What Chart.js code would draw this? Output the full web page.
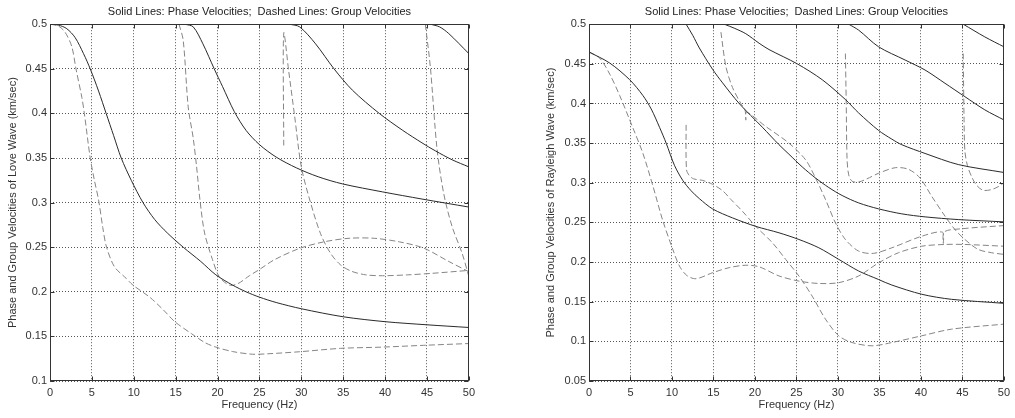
<!DOCTYPE html>
<html>
<head>
<meta charset="utf-8">
<script src="https://cdn.jsdelivr.net/npm/chart.js@4.4.1/dist/chart.umd.min.js"></script>
<style>
  html, body { margin: 0; padding: 0; background: #fff; }
  body { width: 1015px; height: 418px; position: relative; overflow: hidden; }
  .panel { position: absolute; top: 0; width: 480px; height: 418px; }
  #love-wrap { left: 0; }
  #ray-wrap { left: 535px; }
</style>
</head>
<body>
<div class="panel" id="love-wrap"><canvas id="loveChart" width="480" height="418"></canvas></div>
<div class="panel" id="ray-wrap"><canvas id="rayChart" width="480" height="418"></canvas></div>
<script>
// --- ticks ---
const freqTicks = [0, 5, 10, 15, 20, 25, 30, 35, 40, 45, 50];
const loveTicks = [0.1, 0.15, 0.2, 0.25, 0.3, 0.35, 0.4, 0.45, 0.5];
const rayTicks = [0.05, 0.1, 0.15, 0.2, 0.25, 0.3, 0.35, 0.4, 0.45, 0.5];

const chartTitle = 'Solid Lines: Phase Velocities;  Dashed Lines: Group Velocities';

// --- Love wave: [frequency Hz, velocity km/sec] ---
const lovePhase1 = [[0,0.5],[1,0.499],[2,0.495],[3,0.485],[4,0.467],[4.8,0.45],[5.8,0.425],[6.7,0.4],[7.6,0.375],[8.5,0.35],[9.7,0.325],[11.1,0.3],[12.5,0.281],[14,0.266],[15.9,0.25],[18,0.234],[19.8,0.219],[21.8,0.2075],[23.4,0.2],[25,0.194],[27,0.188],[30,0.181],[35,0.172],[40,0.1665],[45,0.163],[50,0.16]];
const lovePhase2 = [[16.1,0.5],[17.1,0.497],[18.25,0.478],[19.6,0.45],[20.6,0.43],[22,0.402],[23.4,0.381],[25,0.365],[27,0.351],[29.4,0.339],[32,0.329],[34.9,0.321],[39.7,0.312],[44.4,0.304],[50,0.295]];
const lovePhase3 = [[28.6,0.5],[29.8,0.497],[31.7,0.478],[33.9,0.45],[36.1,0.426],[39.3,0.4],[42.1,0.381],[44.4,0.367],[46,0.358],[48,0.348],[50,0.34]];
const lovePhase4 = [[45.4,0.5],[46.5,0.497],[47.6,0.4895],[50,0.467]];
const loveGroup1 = [[0,0.5],[1,0.498],[1.8,0.491],[2.6,0.475],[3.1,0.45],[3.8,0.418],[4.1,0.4],[4.8,0.35],[5.3,0.325],[5.8,0.303],[6.3,0.272],[6.75,0.25],[7.7,0.228],[9.1,0.215],[9.9,0.2075],[11.9,0.194],[13.5,0.18],[14.9,0.1665],[16.9,0.153],[18.5,0.143],[19.8,0.138],[21.8,0.133],[24.2,0.13],[26,0.1305],[29.8,0.1328],[34.7,0.1366],[39.7,0.138],[44.6,0.14],[50,0.142]];
const loveGroup2 = [[15.4,0.5],[15.9,0.482],[16.5,0.407],[17.1,0.372],[17.5,0.34],[17.9,0.303],[18.45,0.266],[19.4,0.236],[20.2,0.217],[21.4,0.2075],[22.4,0.209],[23.8,0.218],[25,0.225],[26.8,0.236],[29.8,0.2487],[32.7,0.256],[35.7,0.26],[38.7,0.26],[41.7,0.256],[44.6,0.249],[47.6,0.234],[50,0.2225]];
const loveGroup3 = [[27.9,0.364],[27.9,0.49],[28.5,0.447],[29.2,0.397],[30,0.34],[31.1,0.3],[32.3,0.265],[33.5,0.243],[34.7,0.23],[36,0.223],[37.7,0.219],[39.7,0.218],[42.7,0.219],[45.6,0.2207],[50,0.224]];
const loveGroup4 = [[44.8,0.5],[45.4,0.452],[46.2,0.36],[47,0.31],[48,0.273],[49.2,0.243],[50,0.217]];

// --- Rayleigh wave ---
const rayPhase1 = [[0,0.465],[2.5,0.451],[4.9,0.43],[6.5,0.41],[7.5,0.393],[8.5,0.37],[9.3,0.35],[10.3,0.322],[11.3,0.303],[12.3,0.29],[13.3,0.28],[14.9,0.267],[17.3,0.2557],[20.1,0.245],[22.9,0.2369],[25.3,0.2285],[27.7,0.218],[30.1,0.2034],[32.5,0.1887],[34.9,0.178],[36.5,0.171],[40.1,0.1594],[43.7,0.153],[50,0.148]];
const rayPhase2 = [[11.7,0.5],[12.5,0.486],[13.3,0.47],[14.9,0.443],[16.1,0.426],[18.1,0.4],[20.9,0.37],[22.9,0.348],[24.1,0.336],[25.7,0.32],[27.3,0.306],[28.9,0.294],[30.5,0.284],[32.5,0.2746],[34.9,0.2671],[37.7,0.2608],[40.5,0.257],[44.5,0.2536],[50,0.2507]];
const rayPhase3 = [[16.3,0.5],[17.5,0.495],[18.9,0.488],[20.5,0.476],[21.7,0.468],[25.1,0.45],[28.1,0.43],[30.9,0.405],[32.5,0.388],[34.9,0.366],[36.5,0.355],[37.7,0.348],[40.5,0.337],[44.5,0.323],[50,0.313]];
const rayPhase4 = [[31.3,0.5],[32.5,0.4925],[34.9,0.4715],[38.1,0.4548],[40.5,0.4422],[42.9,0.4255],[45.3,0.4086],[47.7,0.392],[50,0.3793]];
const rayPhase5 = [[45.1,0.5],[47.7,0.484],[50,0.4715]];
const rayGroup1 = [[0,0.465],[1.3,0.457],[2.5,0.437],[3.7,0.41],[5.3,0.369],[6.5,0.337],[7.7,0.296],[8.9,0.252],[10.1,0.216],[10.9,0.195],[11.8,0.183],[12.9,0.179],[14.9,0.1866],[16.9,0.193],[18.9,0.196],[20.5,0.194],[22.9,0.1825],[25.3,0.176],[27.7,0.173],[30.1,0.174],[32.5,0.1825],[34.9,0.199],[37.3,0.2118],[40.1,0.22],[42.9,0.2222],[45.3,0.2222],[50,0.22]];
const rayGroup2 = [[11.7,0.373],[11.75,0.3165],[12.1,0.309],[12.6,0.305],[13.7,0.303],[14.9,0.298],[16.1,0.29],[17.1,0.279],[18.5,0.264],[20.1,0.245],[22.1,0.2244],[23.7,0.2034],[25.3,0.1824],[26.9,0.157],[28.5,0.128],[30.1,0.107],[31.7,0.0985],[34.1,0.0944],[36.5,0.0985],[40.1,0.107],[43.7,0.1154],[50,0.1217]];
const rayGroup3 = [[15.9,0.49],[16.5,0.4465],[17.3,0.42],[18.3,0.4],[18.8,0.392],[18.9,0.379],[19,0.389],[21.3,0.371],[24.1,0.35],[26.1,0.329],[27.3,0.306],[28.5,0.279],[29.7,0.2495],[30.9,0.2285],[32.5,0.2138],[34.3,0.211],[36.5,0.218],[40.1,0.2326],[42.6,0.2377],[42.7,0.2235],[42.8,0.238],[44.9,0.242],[50,0.246]];
const rayGroup4 = [[30.9,0.463],[31,0.4],[31.1,0.33],[31.3,0.31],[31.7,0.302],[32.5,0.301],[33.5,0.305],[34.9,0.312],[36.9,0.319],[38.5,0.317],[39.9,0.306],[41.3,0.283],[42.9,0.258],[44.1,0.241],[45.3,0.2285],[46.9,0.216],[48.5,0.2118],[50,0.2097]];
const rayGroup5 = [[45.1,0.463],[45.2,0.38],[45.3,0.34],[45.6,0.322],[46.1,0.308],[46.7,0.297],[47.5,0.2905],[48.5,0.2914],[49.3,0.295],[50,0.3]];

Chart.defaults.font.family = '"Liberation Sans", Arial, sans-serif';
Chart.defaults.font.size = 11;
Chart.defaults.color = '#333';

// matlab style frame with inward tick marks
const boxPlugin = {
    id: 'matlabBox',
    afterDraw(chart) {
        const { ctx, chartArea: a, scales } = chart;
        const L = Math.round(a.left) + 0.5, R = Math.round(a.right) - 0.5;
        const T = Math.round(a.top) + 0.5, B = Math.round(a.bottom) - 0.5;
        ctx.save();
        ctx.setLineDash([]);
        ctx.strokeStyle = '#333';
        ctx.lineWidth = 1;
        ctx.beginPath();
        scales.x.ticks.forEach(t => {
            const px = Math.round(scales.x.getPixelForValue(t.value)) + 0.5;
            ctx.moveTo(px, B); ctx.lineTo(px, B - 4);
            ctx.moveTo(px, T); ctx.lineTo(px, T + 4);
        });
        scales.y.ticks.forEach(t => {
            const py = Math.round(scales.y.getPixelForValue(t.value)) + 0.5;
            ctx.moveTo(L, py); ctx.lineTo(L + 4, py);
            ctx.moveTo(R, py); ctx.lineTo(R - 4, py);
        });
        ctx.stroke();
        ctx.strokeRect(L, T, R - L, B - T);
        ctx.restore();
    }
};

function curve(points, dashed) {
    return {
        data: points.map(([x, y]) => ({ x, y })),
        borderColor: dashed ? '#858585' : '#2a2a2a',
        borderWidth: 1,
        borderDash: dashed ? [6, 3] : [],
        pointRadius: 0,
        tension: 0.3,
        fill: false
    };
}

function makeChart(id, phase, group, yTicks, yTitle, yWidth, yTitlePad, rightPad) {
    const datasets = phase.map(p => curve(p, false)).concat(group.map(g => curve(g, true)));
    return new Chart(document.getElementById(id), {
        type: 'line',
        data: { datasets },
        plugins: [boxPlugin],
        options: {
            responsive: false,
            animation: false,
            devicePixelRatio: 1,
            layout: { padding: { top: 0, right: rightPad, bottom: 0, left: 0 } },
            plugins: {
                legend: { display: false },
                tooltip: { enabled: false },
                title: {
                    display: true,
                    text: chartTitle,
                    fullSize: false,
                    color: '#222',
                    font: { size: 11, weight: 'normal' },
                    padding: { top: 5, bottom: 6 }
                }
            },
            scales: {
                x: {
                    type: 'linear',
                    min: 0, max: 50,
                    afterBuildTicks: s => { s.ticks = freqTicks.map(v => ({ value: v })); },
                    afterFit: s => { s.height = 37; },
                    grid: { color: '#555', lineWidth: 1, drawTicks: false },
                    border: { display: false, dash: [1, 2] },
                    ticks: { padding: 5, color: '#333', maxRotation: 0, autoSkip: false, callback: v => String(v) },
                    title: { display: true, text: 'Frequency (Hz)', color: '#333', padding: { top: 0, bottom: 6 } }
                },
                y: {
                    type: 'linear',
                    min: yTicks[0], max: yTicks[yTicks.length - 1],
                    afterBuildTicks: s => { s.ticks = yTicks.map(v => ({ value: v })); },
                    afterFit: s => { s.width = yWidth; },
                    grid: { color: '#555', lineWidth: 1, drawTicks: false },
                    border: { display: false, dash: [1, 2] },
                    ticks: { padding: 3, color: '#333', autoSkip: false, callback: v => String(v) },
                    title: { display: true, text: yTitle, color: '#333', padding: { top: yTitlePad, bottom: 0 } }
                }
            }
        }
    });
}

makeChart('loveChart',
    [lovePhase1, lovePhase2, lovePhase3, lovePhase4],
    [loveGroup1, loveGroup2, loveGroup3, loveGroup4],
    loveTicks, 'Phase and Group Velocities of Love Wave (km/sec)', 50, 6, 10);

makeChart('rayChart',
    [rayPhase1, rayPhase2, rayPhase3, rayPhase4, rayPhase5],
    [rayGroup1, rayGroup2, rayGroup3, rayGroup4, rayGroup5],
    rayTicks, 'Phase and Group Velocities of Rayleigh Wave (km/sec)', 54, 9, 8);
</script>
</body>
</html>
